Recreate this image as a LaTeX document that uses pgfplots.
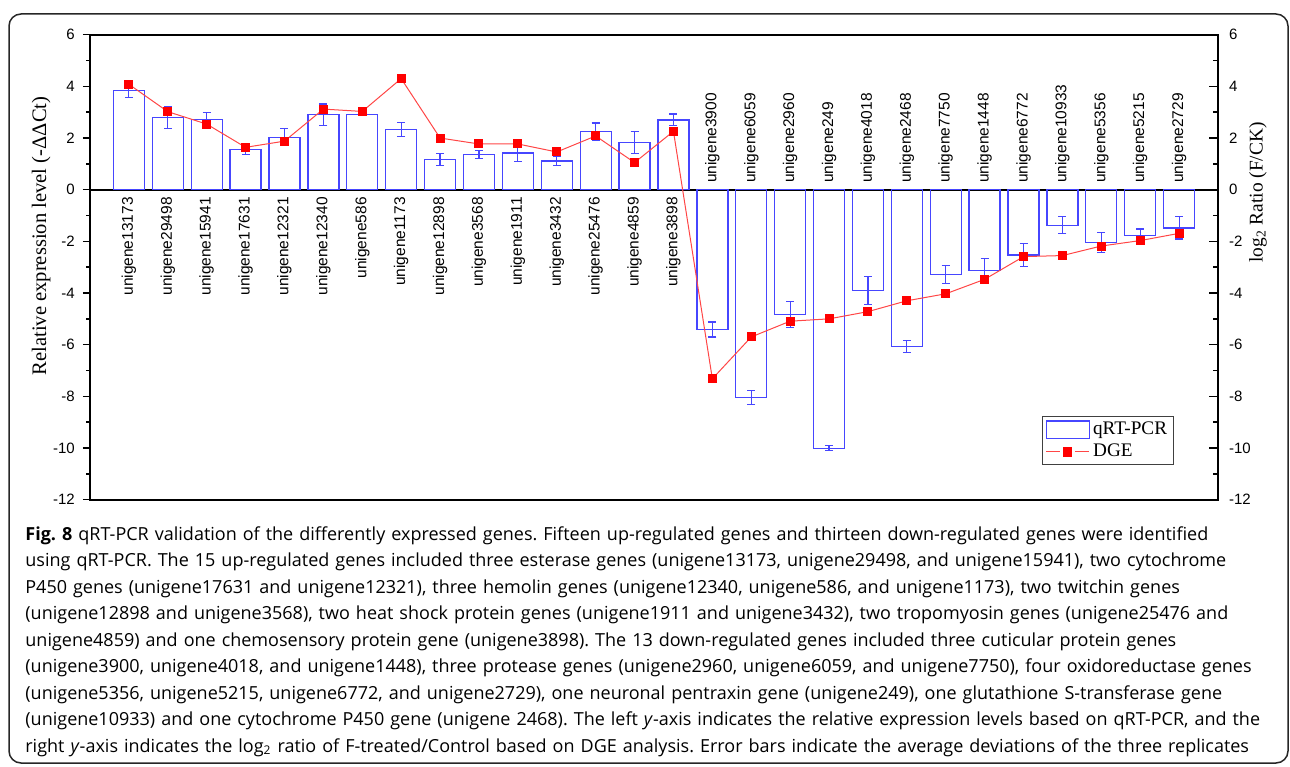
\documentclass[border=0pt]{standalone}
\usepackage{pgfplots}
\pgfplotsset{compat=1.18}
\usepackage{pgfplotstable}
\usepackage{fontspec}
\setmainfont{Liberation Serif}
\newfontfamily\arialf{Liberation Sans}
\newfontfamily\capfont{Open Sans}
\definecolor{barblue}{RGB}{70,70,255}
\definecolor{dgeline}{RGB}{255,70,70}
\definecolor{dgemark}{RGB}{255,0,0}

\pgfplotstableread{
x y e
0 3.85 0.29
1 2.79 0.41
2 2.72 0.28
3 1.56 0.20
4 2.03 0.33
5 2.90 0.42
6 2.92 0.05
7 2.34 0.27
8 1.17 0.24
9 1.37 0.15
10 1.42 0.32
11 1.11 0.17
12 2.25 0.33
13 1.83 0.42
14 2.70 0.23
15 -5.41 0.29
16 -8.05 0.27
17 -4.83 0.51
18 -10.01 0.10
19 -3.90 0.55
20 -6.08 0.23
21 -3.28 0.35
22 -3.12 0.47
23 -2.53 0.44
24 -1.38 0.33
25 -2.05 0.38
26 -1.77 0.25
27 -1.48 0.43
}\qrtpcr

\pgfplotstableread{
x y
0 4.08
1 3.02
2 2.54
3 1.64
4 1.88
5 3.12
6 3.03
7 4.30
8 2.00
9 1.77
10 1.77
11 1.46
12 2.08
13 1.05
14 2.26
15 -7.32
16 -5.70
17 -5.09
18 -5.00
19 -4.72
20 -4.30
21 -4.03
22 -3.47
23 -2.59
24 -2.55
25 -2.18
26 -1.97
27 -1.69
}\dge

\pgfplotstableread{
x y label
0 0 unigene13173
1 0 unigene29498
2 0 unigene15941
3 0 unigene17631
4 0 unigene12321
5 0 unigene12340
6 0 unigene586
7 0 unigene1173
8 0 unigene12898
9 0 unigene3568
10 0 unigene1911
11 0 unigene3432
12 0 unigene25476
13 0 unigene4859
14 0 unigene3898
}\uplabels

\pgfplotstableread{
x y label
15 0 unigene3900
16 0 unigene6059
17 0 unigene2960
18 0 unigene249
19 0 unigene4018
20 0 unigene2468
21 0 unigene7750
22 0 unigene1448
23 0 unigene6772
24 0 unigene10933
25 0 unigene5356
26 0 unigene5215
27 0 unigene2729
}\downlabels

\begin{document}
\begin{tikzpicture}
\useasboundingbox (0pt,0pt) rectangle (645pt,383pt);
\draw[black!85, line width=0.75pt, rounded corners=6pt] (4.5pt,1.5pt) rectangle (644pt,376pt);

\begin{axis}[
  at={(45pt,133.15pt)}, anchor=south west,
  scale only axis, width=564pt, height=232.5pt,
  xmin=-1, xmax=28, ymin=-12, ymax=6,
  xtick=\empty,
  ytick={-12,-10,...,6}, minor y tick num=1,
  ytick pos=left, tick align=outside,
  major tick length=3.6pt, minor tick length=1.8pt,
  tick style={black, line width=0.7pt},
  axis line style={black, line width=1pt},
  /pgf/number format/assume math mode=true,
  yticklabel style={font=\arialf\fontsize{7.5}{9}\selectfont, xshift=-0.5pt},
  ylabel={Relative expression level (-ΔΔCt)},
  ylabel style={at={(axis description cs:-0.0434,0.567)}, anchor=center, font=\fontsize{10.3}{12}\selectfont},
  extra y ticks={0}, extra y tick labels={},
  extra y tick style={grid=major, major grid style={black, line width=1pt}},
  clip=false,
]
\addplot[ybar, bar width=15.5pt, bar shift=0pt, draw=barblue, fill=none, line width=0.65pt,
  error bars/.cd, y dir=both, y explicit,
  error bar style={barblue, line width=0.6pt},
  error mark options={rotate=90, barblue, mark size=2pt, line width=0.6pt}]
  table[x=x, y=y, y error=e] {\qrtpcr};
\end{axis}

\begin{axis}[
  at={(45pt,133.15pt)}, anchor=south west,
  scale only axis, width=564pt, height=232.5pt,
  xmin=-1, xmax=28, ymin=-12, ymax=6,
  axis x line=none, axis y line*=right,
  ytick={-12,-10,...,6}, minor y tick num=1,
  tick align=inside,
  major tick length=4.5pt, minor tick length=2.5pt,
  tick style={black, line width=0.7pt},
  axis line style={black, line width=1pt},
  /pgf/number format/assume math mode=true,
  yticklabel style={font=\arialf\fontsize{7.5}{9}\selectfont, xshift=2pt},
  ylabel={log\textsubscript{2} Ratio (F/CK)},
  ylabel style={at={(axis description cs:1.0355,0.6606)}, anchor=center, font=\fontsize{9.7}{12}\selectfont},
  clip=false,
  legend style={at={(axis description cs:0.844,0.18)}, anchor=north west,
    draw=black!75, line width=0.6pt, fill=white,
    font=\fontsize{9.6}{11}\selectfont,
    inner xsep=1.5pt, inner ysep=1pt, row sep=0pt,
    nodes={inner sep=1.6pt},
    /tikz/every even column/.append style={column sep=0pt}},
  legend cell align=left,
]
\addlegendimage{legend image code/.code={\draw[barblue, line width=0.65pt] (0pt,-4.4pt) rectangle (21.5pt,4.4pt);}}
\addlegendentry{qRT-PCR}
\addplot[color=dgeline, line width=0.5pt, mark=square*, mark size=2pt,
  mark options={draw=dgemark, fill=dgemark},
  legend image code/.code={
    \draw[dgeline, line width=0.5pt] (0pt,0pt) -- (7pt,0pt);
    \draw[dgeline, line width=0.5pt] (14.5pt,0pt) -- (21.5pt,0pt);
    \fill[dgemark] (8.75pt,-2.2pt) rectangle (12.75pt,2.2pt);}]
  table[x=x, y=y] {\dge};
\addlegendentry{DGE}
\addplot[draw=none, mark=none, forget plot,
  nodes near coords={\pgfplotspointmeta}, point meta=explicit symbolic,
  every node near coord/.append style={rotate=90, anchor=east, inner xsep=3.6pt, inner ysep=0pt,
    font=\arialf\fontsize{7.75}{9}\selectfont, black}]
  table[x=x, y=y, meta=label] {\uplabels};
\addplot[draw=none, mark=none, forget plot,
  nodes near coords={\pgfplotspointmeta}, point meta=explicit symbolic,
  every node near coord/.append style={rotate=90, anchor=west, inner xsep=3.2pt, inner ysep=0pt,
    font=\arialf\fontsize{7.75}{9}\selectfont, black}]
  table[x=x, y=y, meta=label] {\downlabels};
\end{axis}

\node[anchor=north west, inner sep=0pt, text width=640pt, align=left,
  font=\capfont\fontsize{9.0}{13.25}\selectfont\frenchspacing] at (12.5pt,122.3pt) {\strut\textbf{Fig. 8} qRT-PCR validation of the differently expressed genes. Fifteen up-regulated genes and thirteen down-regulated genes were identified\\
using qRT-PCR. The 15 up-regulated genes included three esterase genes (unigene13173, unigene29498, and unigene15941), two cytochrome\\
P450 genes (unigene17631 and unigene12321), three hemolin genes (unigene12340, unigene586, and unigene1173), two twitchin genes\\
(unigene12898 and unigene3568), two heat shock protein genes (unigene1911 and unigene3432), two tropomyosin genes (unigene25476 and\\
unigene4859) and one chemosensory protein gene (unigene3898). The 13 down-regulated genes included three cuticular protein genes\\
(unigene3900, unigene4018, and unigene1448), three protease genes (unigene2960, unigene6059, and unigene7750), four oxidoreductase genes\\
(unigene5356, unigene5215, unigene6772, and unigene2729), one neuronal pentraxin gene (unigene249), one glutathione S-transferase gene\\
(unigene10933) and one cytochrome P450 gene (unigene 2468). The left \emph{y}-axis indicates the relative expression levels based on qRT-PCR, and the\\
right \emph{y}-axis indicates the log\textsubscript{2} ratio of F-treated/Control based on DGE analysis. Error bars indicate the average deviations of the three replicates};
\end{tikzpicture}
\end{document}
